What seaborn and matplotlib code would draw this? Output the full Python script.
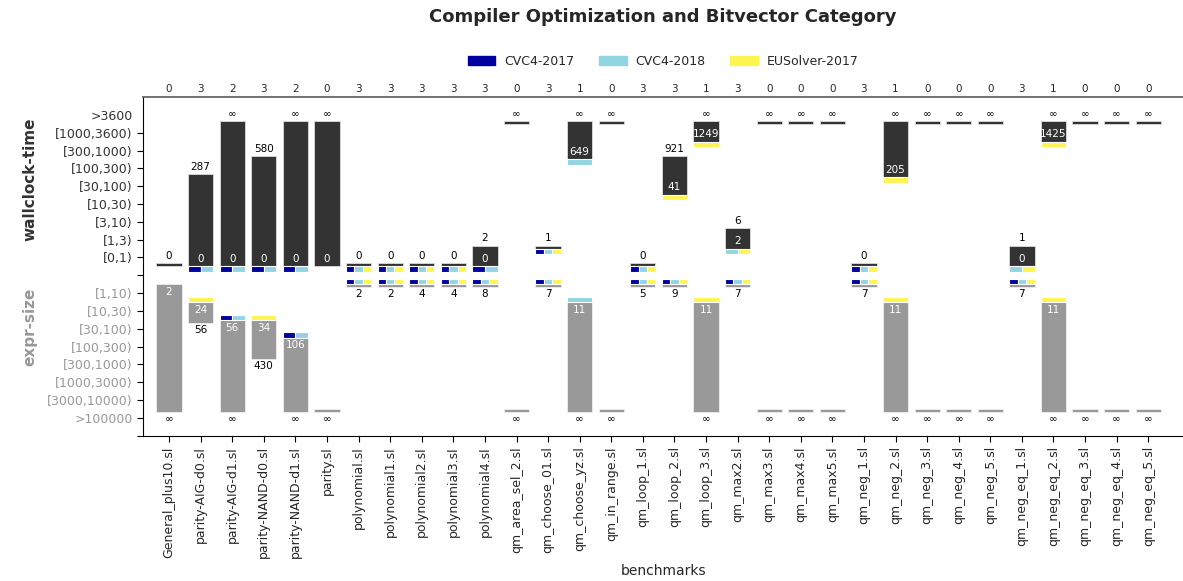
import numpy as np
import matplotlib
matplotlib.use("Agg")
import matplotlib.pyplot as plt
import matplotlib.patches as mpatches
import seaborn as sns

INF = np.inf

solvers = ["CVC4-2017", "CVC4-2018", "EUSolver-2017"]
solver_colors = ["#0000a0", "#92d5e2", "#fff550"]

benchmarks = [
    "General_plus10.sl", "parity-AIG-d0.sl", "parity-AIG-d1.sl", "parity-NAND-d0.sl",
    "parity-NAND-d1.sl", "parity.sl", "polynomial.sl", "polynomial1.sl", "polynomial2.sl",
    "polynomial3.sl", "polynomial4.sl", "qm_area_sel_2.sl", "qm_choose_01.sl",
    "qm_choose_yz.sl", "qm_in_range.sl", "qm_loop_1.sl", "qm_loop_2.sl", "qm_loop_3.sl",
    "qm_max2.sl", "qm_max3.sl", "qm_max4.sl", "qm_max5.sl", "qm_neg_1.sl", "qm_neg_2.sl",
    "qm_neg_3.sl", "qm_neg_4.sl", "qm_neg_5.sl", "qm_neg_eq_1.sl", "qm_neg_eq_2.sl",
    "qm_neg_eq_3.sl", "qm_neg_eq_4.sl", "qm_neg_eq_5.sl",
]
solved_counts = [0, 3, 2, 3, 2, 0, 3, 3, 3, 3, 3, 0, 3, 1, 0, 3, 3, 1, 3, 0, 0, 0,
                 3, 1, 0, 0, 0, 3, 1, 0, 0, 0]

time_min = [0, 0, 0, 0, 0, 0, 0, 0, 0, 0, 0, INF, 1, 649, INF, 0, 41, 1249, 2, INF, INF, INF,
            0, 205, INF, INF, INF, 0, 1425, INF, INF, INF]
time_max = [0, 287, INF, 580, INF, INF, 0, 0, 0, 0, 2, INF, 1, INF, INF, 0, 921, INF, 6, INF,
            INF, INF, 0, INF, INF, INF, INF, 1, INF, INF, INF, INF]
# solvers (by index) reaching the best time
time_best = [[], [0, 1], [0, 1], [0, 1], [0, 1], [], [0, 1, 2], [0, 1, 2], [0, 1, 2],
             [0, 1, 2], [0, 1], [], [0, 1, 2], [1], [], [0, 1, 2], [2], [2], [1, 2], [], [], [],
             [0, 1, 2], [2], [], [], [], [1, 2], [2], [], [], []]

size_min = [2, 24, 56, 34, 106, INF, 2, 2, 4, 4, 8, INF, 7, 11, INF, 5, 9, 11, 7, INF, INF, INF,
            7, 11, INF, INF, INF, 7, 11, INF, INF, INF]
size_max = [INF, 56, INF, 430, INF, INF, 2, 2, 4, 4, 8, INF, 7, INF, INF, 5, 9, INF, 7, INF,
            INF, INF, 7, INF, INF, INF, INF, 7, INF, INF, INF, INF]
size_best = [[], [2], [0, 1], [2], [0, 1], [], [0, 1, 2], [0, 1, 2], [0, 1, 2], [0, 1, 2],
             [0, 1, 2], [], [0, 1, 2], [1], [], [0, 1, 2], [0, 1, 2], [2], [0, 1, 2], [], [], [],
             [0, 1, 2], [2], [], [], [], [0, 1, 2], [2], [], [], []]

time_labels = ["[0,1)", "[1,3)", "[3,10)", "[10,30)", "[30,100)", "[100,300)",
               "[300,1000)", "[1000,3600)", ">3600"]
time_edges = [1, 3, 10, 30, 100, 300, 1000, 3600]
size_labels = ["[1,10)", "[10,30)", "[30,100)", "[100,300)", "[300,1000)",
               "[1000,3000)", "[3000,10000)", ">100000"]
size_edges = [10, 30, 100, 300, 1000, 3000, 10000]

DARK = "#333333"
GRAY = "#999999"


def time_level(v):
    return int(np.searchsorted(time_edges, v, side="right")) + 1


def size_level(v):
    return -(int(np.searchsorted(size_edges, v, side="right")) + 1)


def fmt(v):
    return "\u221e" if np.isinf(v) else str(int(v))


sns.set_theme(style="ticks")
plt.rcParams["font.family"] = ["DejaVu Sans"]

fig = plt.figure(figsize=(11.83, 5.81), dpi=100)
ax = fig.add_axes([0.121, 0.25, 0.879, 0.583])

W = 0.8
SQ = 0.3
x = np.arange(len(benchmarks))

for i in x:
    # wallclock-time range bar (grows upward)
    t_lo = time_level(time_min[i]) - 0.5
    t_hi = time_level(time_max[i]) - 0.33
    ax.bar(i, t_hi - t_lo, bottom=t_lo, width=W, color=DARK, edgecolor="#dddddd", linewidth=0.6)
    if time_min[i] != time_max[i]:
        ax.text(i, t_lo + 0.15, fmt(time_min[i]), ha="center", va="bottom", color="white",
                fontsize=7.5)
    lab = fmt(time_max[i])
    ax.text(i, t_hi + 0.12, lab, ha="center", va="bottom", color="black",
            fontsize=7.5)
    best = time_best[i]
    n = len(best)
    for k, s in enumerate(best):
        w = W / n
        ax.bar(i - W / 2 + (k + 0.5) * w, SQ, bottom=t_lo - SQ, width=w,
               color=solver_colors[s], edgecolor="white", linewidth=0.8)

    # expr-size range bar (grows downward)
    s_hi = size_level(size_min[i]) + 0.5
    s_lo = size_level(size_max[i]) + 0.33
    ax.bar(i, s_hi - s_lo, bottom=s_lo, width=W, color=GRAY, edgecolor="#eeeeee", linewidth=0.6)
    if size_min[i] != size_max[i]:
        ax.text(i, s_hi - 0.15, fmt(size_min[i]), ha="center", va="top", color="white",
                fontsize=7.5)
    lab = fmt(size_max[i])
    ax.text(i, s_lo - 0.12, lab, ha="center", va="top", color="black",
            fontsize=7.5)
    best = size_best[i]
    n = len(best)
    for k, s in enumerate(best):
        w = W / n
        ax.bar(i - W / 2 + (k + 0.5) * w, SQ, bottom=s_hi, width=w,
               color=solver_colors[s], edgecolor="white", linewidth=0.8)

ax.set_xlim(-0.82, 32.1)
ax.set_ylim(-9, 10)

yt = list(range(-9, 10))
ylab = [""] + size_labels[::-1] + [""] + time_labels
ax.set_yticks(yt)
ax.set_yticklabels(ylab, fontsize=9)
for t, v in zip(ax.get_yticklabels(), yt):
    t.set_color(GRAY if v < 0 else DARK)
ax.yaxis.get_major_ticks()[-1].tick1line.set_visible(False)

ax.set_xticks(x)
ax.set_xticklabels(benchmarks, rotation=90, fontsize=9)
ax.tick_params(axis="both", direction="out", length=4, width=0.8, color="black")
ax.set_xlabel("benchmarks", fontsize=10)

top = ax.secondary_xaxis("top")
top.set_xticks(x)
top.set_xticklabels([str(c) for c in solved_counts], fontsize=7.5)
top.tick_params(length=0, pad=2)
top.spines["top"].set_visible(False)

ax.spines["right"].set_visible(False)
ax.spines["top"].set_color("#666666")
ax.spines["top"].set_linewidth(1.3)
ax.spines["left"].set_color("black")
ax.spines["bottom"].set_color("black")
ax.spines["left"].set_linewidth(0.8)
ax.spines["bottom"].set_linewidth(0.8)

fig.text(0.025, 0.692, "wallclock-time", rotation=90, ha="center", va="center",
         fontsize=11, fontweight="bold", color=DARK)
fig.text(0.025, 0.437, "expr-size", rotation=90, ha="center", va="center",
         fontsize=11, fontweight="bold", color=GRAY)

handles = [mpatches.Patch(color=c, label=s) for s, c in zip(solvers, solver_colors)]
ax.legend(handles=handles, loc="center", bbox_to_anchor=(0.5, 1.105), ncol=3,
          frameon=False, fontsize=9, handlelength=2.2, handletextpad=0.7,
          columnspacing=2.0)

ax.text(0.5, 1.236, "Compiler Optimization and Bitvector Category", transform=ax.transAxes,
        ha="center", va="center", fontsize=13, fontweight="bold")

fig.savefig("out.png", dpi=100)
